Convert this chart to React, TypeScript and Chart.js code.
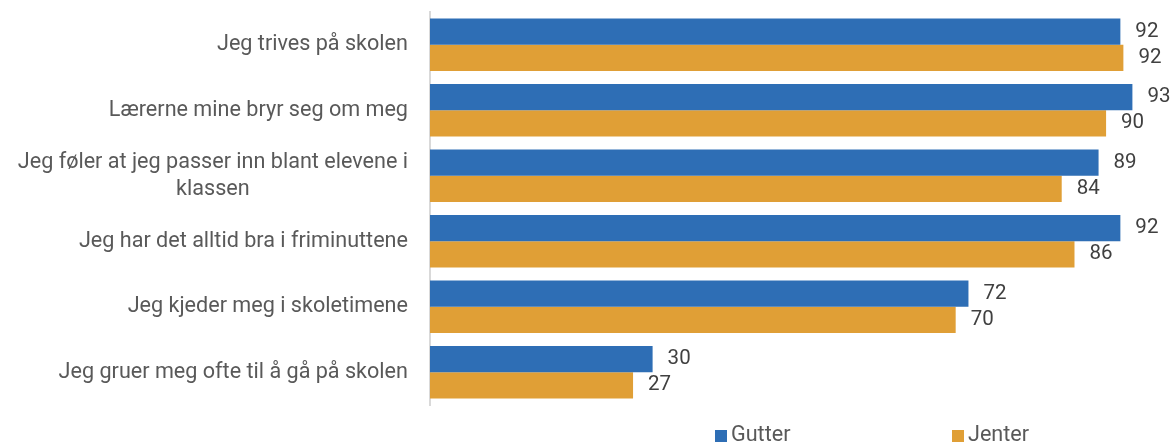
import React, { useEffect, useRef } from "react";
import { Chart, registerables } from "chart.js";

Chart.register(...registerables);

const categories: string[][] = [
  ["Jeg trives på skolen"],
  ["Lærerne mine bryr seg om meg"],
  ["Jeg føler at jeg passer inn blant elevene i", "klassen"],
  ["Jeg har det alltid bra i friminuttene"],
  ["Jeg kjeder meg i skoletimene"],
  ["Jeg gruer meg ofte til å gå på skolen"],
];
const gutter = [91.8, 93.4, 88.9, 91.8, 71.6, 29.6];
const jenter = [92.2, 89.9, 84.0, 85.7, 69.9, 27.0];
const seriesNames = ["Gutter", "Jenter"];
const seriesColors = ["#2E6EB5", "#E09F36"];

const FONT = "Roboto, 'Noto Sans', sans-serif";

export default function App() {
  const ref = useRef<HTMLCanvasElement | null>(null);

  useEffect(() => {
    if (!ref.current) return;

    const labelsPlugin = {
      id: "customLabels",
      afterDraw(chart: any) {
        const ctx = chart.ctx;
        const yScale = chart.scales.y;
        ctx.save();
        // category labels
        ctx.font = `21.6px ${FONT}`;
        ctx.fillStyle = "#595959";
        ctx.textAlign = "center";
        ctx.textBaseline = "middle";
        const rightEdge = chart.chartArea.left - 22;
        const lh = 27;
        categories.forEach((lines, i) => {
          const cy = yScale.getPixelForValue(i);
          const maxW = Math.max(...lines.map((l) => ctx.measureText(l).width));
          const cx = rightEdge - maxW / 2;
          const y0 = cy - ((lines.length - 1) * lh) / 2;
          lines.forEach((l, j) => ctx.fillText(l, cx, y0 + j * lh));
        });
        // data labels
        ctx.font = `20.5px ${FONT}`;
        ctx.fillStyle = "#404040";
        ctx.textAlign = "left";
        chart.data.datasets.forEach((ds: any, di: number) => {
          const meta = chart.getDatasetMeta(di);
          meta.data.forEach((bar: any, i: number) => {
            ctx.fillText(String(Math.round(ds.data[i])), bar.x + 15, bar.y);
          });
        });
        // legend
        ctx.font = `21.6px ${FONT}`;
        const legendX = [715, 952];
        const legendY = 436;
        seriesNames.forEach((name, i) => {
          ctx.fillStyle = seriesColors[i];
          ctx.fillRect(legendX[i], legendY - 6, 12, 12);
          ctx.fillStyle = "#595959";
          ctx.fillText(name, legendX[i] + 16, legendY);
        });
        ctx.restore();
      },
    };

    const chart = new Chart(ref.current, {
      type: "bar",
      data: {
        labels: categories.map((c) => c.join(" ")),
        datasets: [
          { label: seriesNames[0], data: gutter, backgroundColor: seriesColors[0] },
          { label: seriesNames[1], data: jenter, backgroundColor: seriesColors[1] },
        ],
      },
      options: {
        indexAxis: "y",
        responsive: false,
        animation: false,
        devicePixelRatio: 1,
        layout: { padding: { top: 12, bottom: 38, right: 7, left: 0 } },
        datasets: { bar: { categoryPercentage: 0.8, barPercentage: 1 } },
        plugins: {
          legend: { display: false },
          tooltip: { enabled: false },
        },
        scales: {
          x: {
            min: 0,
            max: 98,
            display: false,
          },
          y: {
            grid: { display: false },
            ticks: { display: false },
            border: { display: true, color: "#D9D9D9", width: 2 },
            afterFit: (scale: any) => {
              scale.width = 430;
            },
          },
        },
      },
      plugins: [labelsPlugin],
    });
    return () => chart.destroy();
  }, []);

  return (
    <div style={{ position: "fixed", left: 0, top: 0, width: 1174, height: 443, background: "#fff" }}>
      <canvas ref={ref} width={1174} height={443} />
    </div>
  );
}
